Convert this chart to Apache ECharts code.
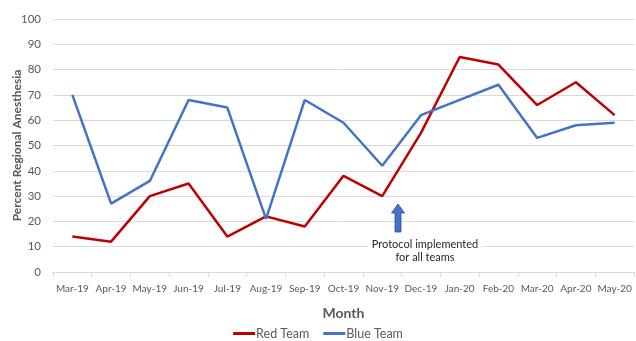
<!DOCTYPE html>
<html><head><meta charset="utf-8">
<script src="https://cdn.jsdelivr.net/npm/echarts@6/dist/echarts.min.js"></script>
<style>html,body{margin:0;padding:0;background:#fff}#c{width:636px;height:341px}</style>
</head><body><div id="c"></div>
<script>
const months = ["Mar-19","Apr-19","May-19","Jun-19","Jul-19","Aug-19","Sep-19","Oct-19","Nov-19","Dec-19","Jan-20","Feb-20","Mar-20","Apr-20","May-20"];
const redTeam = [14,12,30,35,14,22,18,38,30,55,85,82,66,75,62];
const blueTeam = [70,27,36,68,65,21,68,59,42,62,68,74,53,58,59];
const yTicks = {min:0, max:100, interval:10};

const chart = echarts.init(document.getElementById('c'), null, {renderer:'canvas'});
const font = "Lato, 'Open Sans', sans-serif";
chart.setOption({
  animation:false,
  textStyle:{fontFamily:font},
  grid:{left:53, right:2, top:19, bottom:69, containLabel:false, outerBoundsMode:'none'},
  xAxis:{
    type:'category', data:months, boundaryGap:true,
    name:'Month', nameLocation:'middle', nameGap:34, nameMoveOverlap:false,
    nameTextStyle:{fontSize:14, fontWeight:'bold', color:'#595959', fontFamily:font},
    axisLine:{lineStyle:{color:'#d9d9d9', width:1}},
    axisTick:{show:true, length:5, lineStyle:{color:'#d9d9d9'}},
    axisLabel:{fontSize:10, color:'#595959', margin:12, interval:0, fontFamily:font}
  },
  yAxis:{
    type:'value', min:yTicks.min, max:yTicks.max, interval:yTicks.interval,
    name:'Percent Regional Anesthesia', nameLocation:'middle', nameGap:30, nameMoveOverlap:false,
    nameTextStyle:{fontSize:12, fontWeight:'bold', color:'#595959', fontFamily:font},
    axisLine:{show:false}, axisTick:{show:false},
    axisLabel:{fontSize:11.5, color:'#595959', margin:12, fontFamily:font},
    splitLine:{lineStyle:{color:'#d9d9d9', width:1}}
  },
  legend:{
    top:322, left:'center', itemWidth:22, itemHeight:3, itemGap:14,
    icon:'rect',
    textStyle:{fontSize:12.5, color:'#595959', padding:[0,0,0,-4], fontFamily:font},
    data:['Red Team','Blue Team']
  },
  series:[
    {name:'Red Team', type:'line', data:redTeam, showSymbol:false, symbol:'none',
     lineStyle:{color:'#C00000', width:2.5}, itemStyle:{color:'#C00000'}},
    {name:'Blue Team', type:'line', data:blueTeam, showSymbol:false, symbol:'none',
     lineStyle:{color:'#4472C4', width:2.5}, itemStyle:{color:'#4472C4'}}
  ],
  graphic:[
    {type:'polygon', z:100, shape:{points:[[398,204],[404.5,213],[401,213],[401,232],[395,232],[395,213],[391.5,213]]},
     style:{fill:'#4472C4', stroke:'#2F528F', lineWidth:0.8}},
    {type:'rect', z:100, shape:{x:368, y:238, width:114, height:26}, style:{fill:'#fff'}},
    {type:'text', z:101, x:425, y:238, style:{text:'Protocol implemented\nfor all teams', align:'center', verticalAlign:'top', fill:'#262626', fontSize:11, lineHeight:13, fontFamily:font}}
  ]
});
</script></body></html>
